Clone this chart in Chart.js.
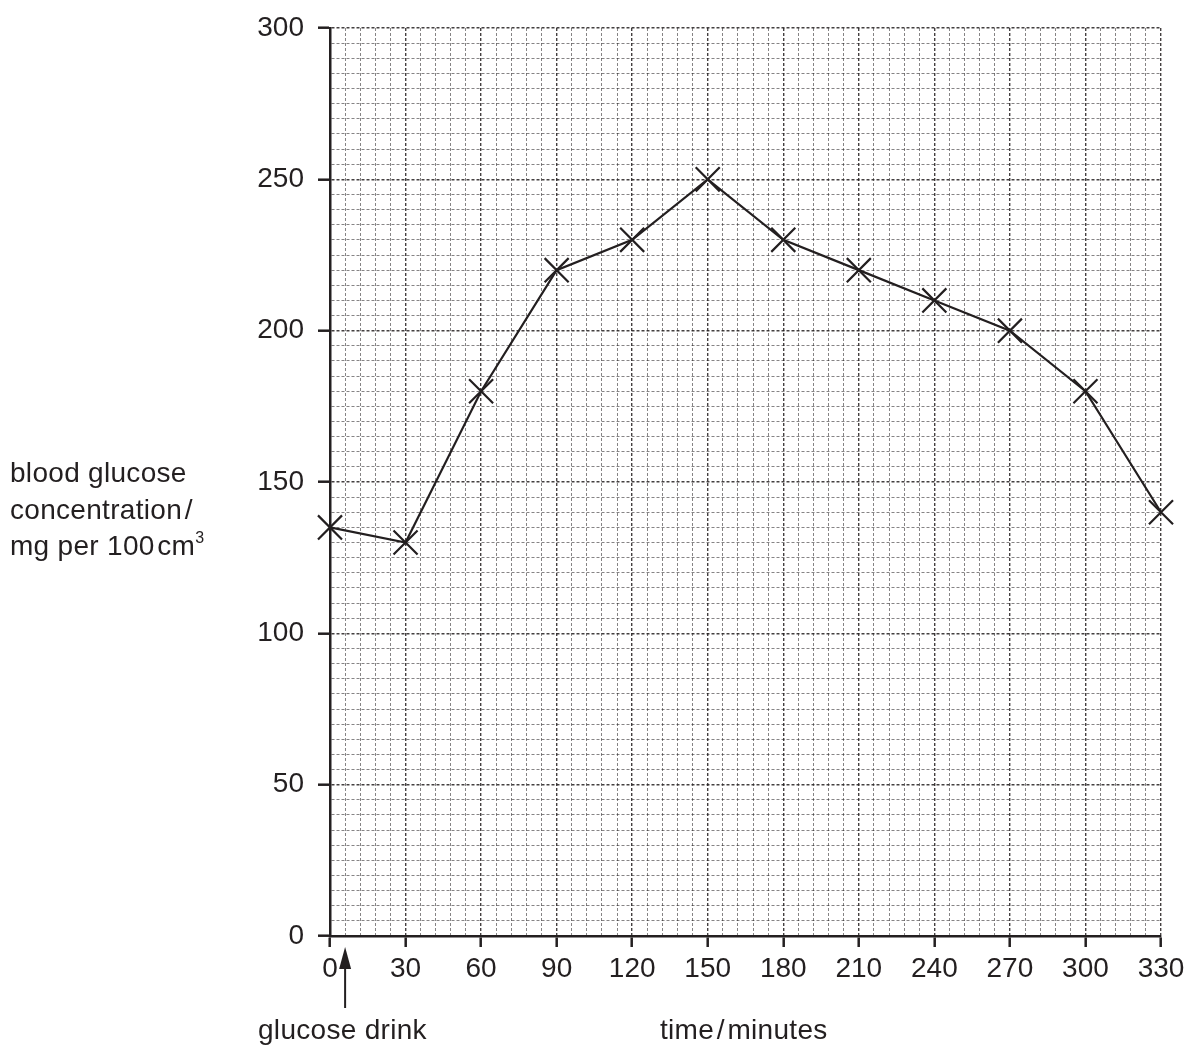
<!DOCTYPE html>
<html>
<head>
<meta charset="utf-8">
<script src="https://cdn.jsdelivr.net/npm/chart.js@4"></script>
<style>
  html, body { margin: 0; padding: 0; background: #fff; }
  #wrap { position: relative; width: 1191px; height: 1057px; }
  canvas { position: absolute; left: 0; top: 0; }
  .lbl { position: absolute; font-family: "Liberation Sans", Arial, sans-serif; font-size: 28px; color: #231f20; white-space: nowrap; letter-spacing: 0.3px; }
  sup { font-size: 16px; vertical-align: 12px; line-height: 0; }
</style>
</head>
<body>
<div id="wrap">
  <canvas id="c" width="1191" height="1057"></canvas>
  <div class="lbl" style="left:10px; top:455px; line-height:36.5px;">blood glucose<br>concentration&#8202;/<br>mg per 100&#8202;cm<sup>3</sup></div>
  <div class="lbl" style="left:258px; top:1013px; line-height:34px;">glucose drink</div>
  <div class="lbl" style="left:660px; top:1013px; line-height:34px;">time&#8202;/&#8202;minutes</div>
</div>
<script>
const timeMinutes = [0, 30, 60, 90, 120, 150, 180, 210, 240, 270, 300, 330];
const glucose = [135, 130, 180, 220, 230, 250, 230, 220, 210, 200, 180, 140];
const xTickLabels = [0, 30, 60, 90, 120, 150, 180, 210, 240, 270, 300, 330];
const yTickLabels = [0, 50, 100, 150, 200, 250, 300];
const glucoseDrinkTime = 6;

const INK = '#231f20';
const FONT = '"Liberation Sans", Arial, sans-serif';

const arrowPlugin = {
  id: 'arrow',
  afterDraw(chart) {
    const ctx = chart.ctx;
    const x = chart.scales.x.getPixelForValue(glucoseDrinkTime);
    const yTop = chart.scales.y.getPixelForValue(0) + 11;
    const yBot = yTop + 61;
    ctx.save();
    ctx.strokeStyle = INK; ctx.fillStyle = INK; ctx.lineWidth = 2;
    ctx.beginPath(); ctx.moveTo(x, yBot); ctx.lineTo(x, yTop + 18); ctx.stroke();
    ctx.beginPath(); ctx.moveTo(x, yTop); ctx.lineTo(x - 6, yTop + 22); ctx.lineTo(x + 6, yTop + 22); ctx.closePath(); ctx.fill();
    ctx.restore();
  }
};

new Chart(document.getElementById('c'), {
  type: 'line',
  data: {
    datasets: [{
      data: timeMinutes.map((t, i) => ({ x: t, y: glucose[i] })),
      borderColor: INK,
      borderWidth: 2.2,
      pointStyle: 'crossRot',
      pointRadius: 17,
      pointBorderColor: INK,
      pointBorderWidth: 2.2,
      tension: 0,
      fill: false,
      clip: false
    }]
  },
  options: {
    responsive: false,
    animation: false,
    events: [],
    layout: { padding: { top: 28, right: 30, left: 0, bottom: 0 } },
    plugins: { legend: { display: false }, tooltip: { enabled: false } },
    scales: {
      x: {
        type: 'linear', min: 0, max: 330,
        afterBuildTicks: s => { const t = []; for (let v = 0; v <= 330; v += 6) t.push({ value: v }); s.ticks = t; },
        afterFit: s => { s.height = 121; },
        border: { display: true, color: INK, width: 2.5 },
        grid: {
          color: c => (c.tick && c.tick.value % 30 === 0) ? 'rgba(35,31,32,0.85)' : 'rgba(35,31,32,0.55)',
          lineWidth: c => (c.tick && c.tick.value % 30 === 0) ? 1.4 : 1,
          tickColor: c => (c.tick && xTickLabels.includes(c.tick.value)) ? INK : 'rgba(0,0,0,0)',
          tickWidth: 2.5,
          tickLength: 11,
          drawTicks: true
        },
        ticks: {
          autoSkip: false, maxRotation: 0, padding: 5,
          color: INK, font: { family: FONT, size: 28 },
          callback: v => xTickLabels.includes(v) ? String(v) : ''
        }
      },
      y: {
        type: 'linear', min: 0, max: 300,
        afterBuildTicks: s => { const t = []; for (let v = 0; v <= 300; v += 5) t.push({ value: v }); s.ticks = t; },
        afterFit: s => { s.width = 330; s.paddingTop = 0; s.paddingBottom = 0; },
        border: { display: true, color: INK, width: 2.5 },
        grid: {
          color: c => (c.tick && c.tick.value % 50 === 0) ? 'rgba(35,31,32,0.85)' : 'rgba(35,31,32,0.55)',
          lineWidth: c => (c.tick && c.tick.value % 50 === 0) ? 1.4 : 1,
          tickColor: c => (c.tick && yTickLabels.includes(c.tick.value)) ? INK : 'rgba(0,0,0,0)',
          tickWidth: 2.5,
          tickLength: 12,
          drawTicks: true
        },
        ticks: {
          autoSkip: false, padding: 14,
          color: INK, font: { family: FONT, size: 28 },
          callback: v => yTickLabels.includes(v) ? String(v) : ''
        }
      }
    }
  },
  plugins: [{
    id: 'dashGrid',
    beforeInit(chart) {
      chart.options.scales.x.border.dash = [3, 2];
      chart.options.scales.y.border.dash = [3, 2];
    }
  }, arrowPlugin]
});
</script>
</body>
</html>
